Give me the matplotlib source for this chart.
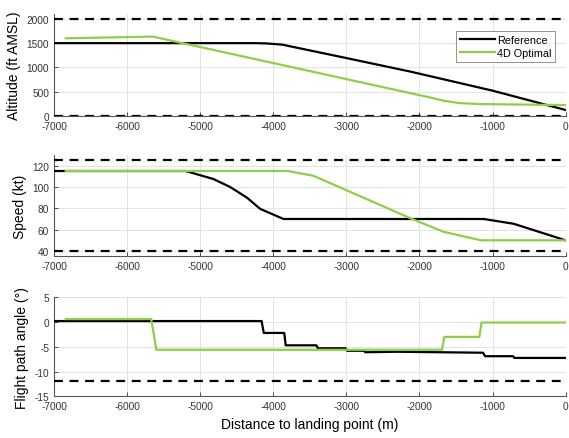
import matplotlib.pyplot as plt

plt.rcParams["font.family"] = ["Liberation Sans", "DejaVu Sans"]
plt.rcParams["axes.unicode_minus"] = False

# altitude (ft AMSL)
alt_ref_x = [-7000, -4250, -4100, -3880, -2990, -2120, -1000, 0]
alt_ref_y = [1500, 1500, 1495, 1470, 1190, 913, 522, 124]
alt_opt_x = [-6840, -5650, -1850, -1670, -1450, -1160, 0]
alt_opt_y = [1600, 1635, 380, 315, 265, 245, 225]

# speed (kt)
spd_ref_x = [-7000, -5200, -4820, -4590, -4360, -4180, -3860, -1120, -710, 0]
spd_ref_y = [115, 115, 107.5, 100, 90, 79.5, 70, 70, 65.5, 50]
spd_opt_x = [-6840, -3800, -3450, -2100, -1670, -1160, 0]
spd_opt_y = [115, 115, 110.5, 70, 58, 50, 50]

# flight path angle (deg)
fpa_ref_x = [-7000, -4160, -4130, -3850, -3830, -3410, -3390, -3010, -2990, -2760, -2740,
             -2300, -1130, -1100, -720, -700, 0]
fpa_ref_y = [0.2, 0.2, -2.2, -2.2, -4.7, -4.7, -5.3, -5.3, -5.8, -5.8, -6.1,
             -6.0, -6.2, -6.9, -6.9, -7.25, -7.25]
fpa_opt_x = [-6840, -5670, -5600, -1690, -1660, -1180, -1150, 0]
fpa_opt_y = [0.6, 0.6, -5.6, -5.6, -3.0, -3.0, -0.1, -0.1]

GREEN = "#8DCF4A"
fig = plt.figure(figsize=(5.69, 4.39), dpi=100)
left, width = 0.095, 0.899
ax1 = fig.add_axes([left, 0.7335, width, 0.2323])
ax2 = fig.add_axes([left, 0.4139, width, 0.2307])
ax3 = fig.add_axes([left, 0.095, width, 0.2255])

for ax in (ax1, ax2, ax3):
    ax.set_xlim(-7000, 0)
    ax.set_xticks(range(-7000, 1, 1000))
    ax.grid(True, color="#e3e3e3", lw=0.7)
    ax.set_axisbelow(True)
    for s in ("top", "right"):
        ax.spines[s].set_visible(False)
    for s in ("left", "bottom"):
        ax.spines[s].set_color("#555555")
        ax.spines[s].set_linewidth(0.8)
    ax.tick_params(direction="in", labelsize=7.3, colors="#333333", length=3, width=0.6)

kw_lim = dict(color="black", lw=1.6, ls=(0, (4, 3)), zorder=4)

ax1.plot(alt_ref_x, alt_ref_y, color="black", lw=1.6, label="Reference", zorder=3)
ax1.plot(alt_opt_x, alt_opt_y, color=GREEN, lw=1.6, label="4D Optimal", zorder=3)
ax1.axhline(2000, **kw_lim)
ax1.axhline(0, **kw_lim)
ax1.set_ylim(0, 2100)
ax1.set_yticks(range(0, 2001, 500))
ax1.set_ylabel("Altitude (ft AMSL)", fontsize=10)
leg = ax1.legend(loc="upper right", fontsize=7.8, frameon=True, fancybox=False,
                 edgecolor="#777777", handlelength=3.2, handletextpad=0.2,
                 borderpad=0.35, labelspacing=0.3, bbox_to_anchor=(0.99, 0.885))
leg.get_frame().set_linewidth(0.7)

ax2.plot(spd_ref_x, spd_ref_y, color="black", lw=1.6, zorder=3)
ax2.plot(spd_opt_x, spd_opt_y, color=GREEN, lw=1.6, zorder=3)
ax2.axhline(125, **kw_lim)
ax2.axhline(40, **kw_lim)
ax2.set_ylim(35, 130)
ax2.set_yticks(range(40, 121, 20))
ax2.set_ylabel("Speed (kt)", fontsize=10)

ax3.plot(fpa_ref_x, fpa_ref_y, color="black", lw=1.6, zorder=3)
ax3.plot(fpa_opt_x, fpa_opt_y, color=GREEN, lw=1.6, zorder=3)
ax3.axhline(-12, **kw_lim)
ax3.set_ylim(-15, 5)
ax3.set_yticks(range(-15, 6, 5))
ax3.set_ylabel("Flight path angle (°)", fontsize=10)
ax3.set_xlabel("Distance to landing point (m)", fontsize=10)

fig.savefig("out.png", dpi=100)
